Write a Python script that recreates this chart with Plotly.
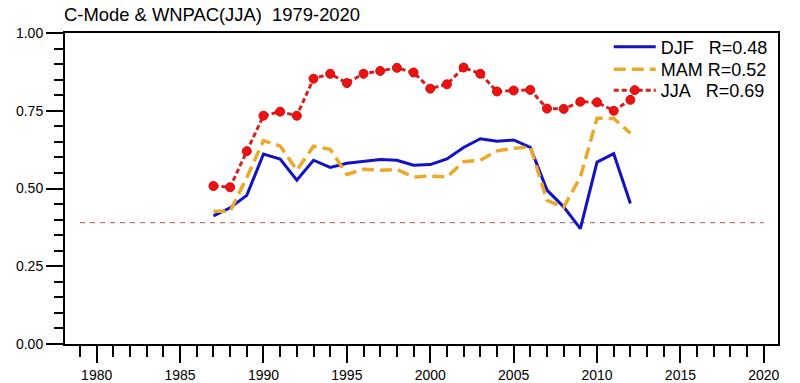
import plotly.graph_objects as go

years = list(range(1987, 2013))
djf = [0.412, 0.438, 0.478, 0.611, 0.595, 0.527, 0.591, 0.568, 0.581, 0.586, 0.593, 0.591, 0.575,
       0.577, 0.595, 0.632, 0.660, 0.652, 0.656, 0.632, 0.495, 0.441, 0.371, 0.585, 0.612, 0.452]
mam = [0.427, 0.427, 0.535, 0.654, 0.637, 0.559, 0.636, 0.626, 0.545, 0.562, 0.559, 0.561, 0.537,
       0.540, 0.537, 0.586, 0.591, 0.621, 0.629, 0.634, 0.462, 0.440, 0.537, 0.726, 0.725, 0.678]
jja = [0.508, 0.504, 0.620, 0.734, 0.747, 0.734, 0.853, 0.869, 0.839, 0.869, 0.878, 0.888, 0.873,
       0.821, 0.835, 0.889, 0.869, 0.812, 0.815, 0.817, 0.757, 0.756, 0.779, 0.777, 0.750, 0.785]
r_values = {"DJF": "0.48", "MAM": "0.52", "JJA": "0.69"}
sig_years = [1979, 2020]
sig_level = [0.39, 0.39]
x_ticks = [1980, 1985, 1990, 1995, 2000, 2005, 2010, 2015, 2020]
y_ticks = [0.0, 0.25, 0.5, 0.75, 1.0]

NB = "\u00a0"
names = {
    "DJF": "DJF" + NB * 3 + "R=" + r_values["DJF"],
    "MAM": "MAM" + NB * 1 + "R=" + r_values["MAM"],
    "JJA": "JJA" + NB * 3 + "R=" + r_values["JJA"],
}

FONT = "Liberation Sans, Arial, Helvetica, sans-serif"

fig = go.Figure()
fig.add_trace(go.Scatter(x=sig_years, y=sig_level, mode="lines", showlegend=False,
                         line=dict(color="#a85858", width=1, dash="5px,5px"), hoverinfo="skip"))
fig.add_trace(go.Scatter(x=years, y=djf, mode="lines", name=names["DJF"], legend="legend",
                         line=dict(color="#1212c4", width=3)))
fig.add_trace(go.Scatter(x=years, y=mam, mode="lines", name=names["MAM"], legend="legend2",
                         line=dict(color="#eaa92b", width=3.5, dash="12px,6px")))
fig.add_trace(go.Scatter(x=years, y=jja, mode="lines+markers", name=names["JJA"], legend="legend3",
                         line=dict(color="#d42020", width=3, dash="5px,3px"),
                         marker=dict(symbol="circle", size=9, color="#ee1111",
                                     line=dict(color="#cc1010", width=1))))

axis_common = dict(
    showgrid=False, zeroline=False, showline=True, linecolor="black", linewidth=2,
    mirror=True, ticks="outside", tickcolor="black", tickwidth=2, ticklen=17,
    tickfont=dict(family=FONT, size=14, color="black"), automargin=False,
)
fig.update_xaxes(range=[1978.1, 2020.85], tickvals=x_ticks,
                 minor=dict(dtick=1, tick0=1979, ticks="outside", ticklen=11, tickwidth=1.5,
                            tickcolor="black"),
                 **axis_common)
fig.update_yaxes(range=[0, 1], tickvals=y_ticks, tickformat=".2f",
                 minor=dict(dtick=0.05, tick0=0, ticks="outside", ticklen=9, tickwidth=1.5,
                            tickcolor="black"),
                 **axis_common)

legend_common = dict(x=0.7626, xanchor="left", yanchor="top", bgcolor="rgba(0,0,0,0)",
                     borderwidth=0, font=dict(family=FONT, size=18, color="black"),
                     itemwidth=42)

fig.update_layout(
    width=800, height=383,
    margin=dict(l=65, r=22, t=33, b=39, autoexpand=False),
    paper_bgcolor="white", plot_bgcolor="white",
    font=dict(family=FONT, color="black"),
    title=dict(text="C-Mode & WNPAC(JJA)  1979-2020", x=64 / 800, xanchor="left",
               xref="container", y=1 - 15 / 383, yanchor="middle", yref="container",
               automargin=False,
               font=dict(family=FONT, size=18.4, color="black")),
    legend=dict(y=1.0145, **legend_common),
    legend2=dict(y=0.9416, **legend_common),
    legend3=dict(y=0.8748, **legend_common),
    showlegend=True,
)

fig.write_html("out.html", config={"displayModeBar": False},
               post_script="document.body.style.margin='0px';document.body.style.overflow='hidden';")
